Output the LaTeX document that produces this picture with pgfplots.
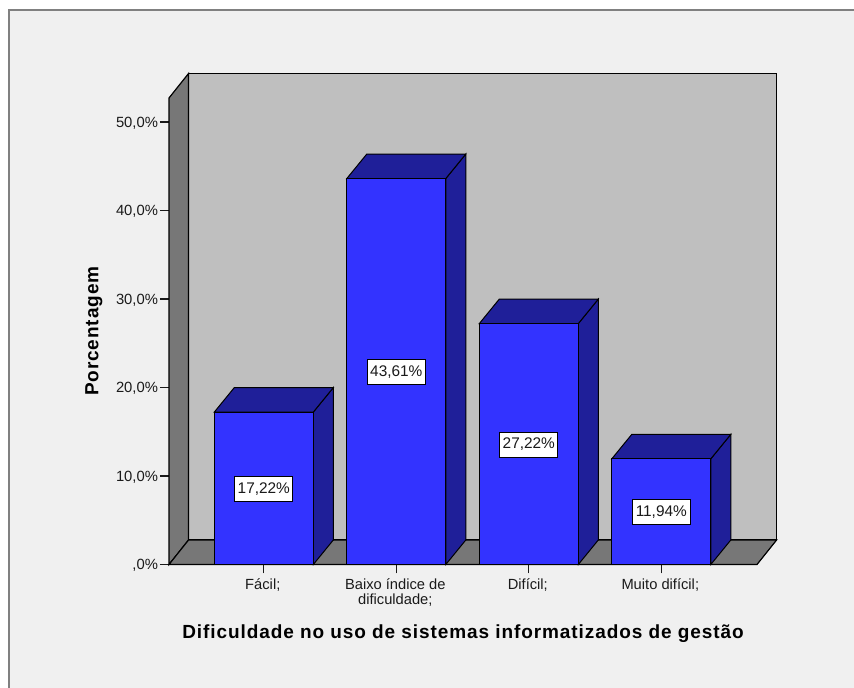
\documentclass[border=0pt]{standalone}
\usepackage{pgfplots}
\usepackage{pgfplotstable}
\usepackage{fontspec}
\pgfplotsset{compat=1.18}
\setmainfont{Liberation Sans}
\newfontfamily\titlefont[LetterSpace=4.8]{Liberation Sans}

\definecolor{panel}{HTML}{F0F0F0}
\definecolor{frameline}{HTML}{808080}
\definecolor{wall}{HTML}{BFBFBF}
\definecolor{wallside}{HTML}{777777}
\definecolor{barfront}{HTML}{3333FF}
\definecolor{barside}{HTML}{1F1F99}
\definecolor{inktext}{HTML}{1A1A1A}

\pgfplotstableread{
x y
0 17.22
1 43.61
2 27.22
3 11.94
}\bars

\begin{document}
\begin{tikzpicture}
\useasboundingbox (0,0) rectangle (854pt,688pt);
\fill[white] (0,0) rectangle (854pt,688pt);
\fill[panel] (9pt,0) rectangle (854pt,678pt);
\draw[frameline,line width=2pt] (9pt,0) -- (9pt,678pt) -- (854pt,678pt);

\begin{axis}[
  at={(169pt,123.5pt)}, anchor=south west,
  scale only axis, width=588pt, height=466.5pt,
  xmin=-0.7155, xmax=3.7223,
  ymin=0, ymax=52.71,
  clip=false,
  axis lines=left,
  axis line style={-, draw=black, line width=1pt},
  tick align=outside,
  major tick length=9pt,
  tick style={draw=inktext, line width=1.2pt},
  xtick={0,1,2,3},
  xticklabels={F\'acil;,{Baixo \'indice de\\dificuldade;},Dif\'icil;,Muito dif\'icil;},
  ytick={0,10,20,30,40,50},
  yticklabels={{,0\%},{10,0\%},{20,0\%},{30,0\%},{40,0\%},{50,0\%}},
  tick label style={text=inktext},
  yticklabel style={font=\fontsize{14.8}{15}\selectfont, xshift=1.5pt, yshift=-1pt},
  xticklabel style={font=\fontsize{14.7}{15}\selectfont, align=center, yshift=-2pt, xshift=-1pt},
  xlabel={\titlefont\bfseries Dificuldade no uso de sistemas informatizados de gest\~ao},
  xlabel style={font=\fontsize{19}{22}\selectfont, at={(axis description cs:0.5,-0.1487)}, anchor=center},
  ylabel={\titlefont\bfseries Porcentagem},
  ylabel style={font=\fontsize{19}{22}\selectfont, at={(axis description cs:-0.128,0.5)}, anchor=center},
]
% walls and floor
\addplot[fill=wall, draw=black, line width=1.5pt] coordinates {(-0.568,2.768) (3.870,2.768) (3.870,55.48) (-0.568,55.48)} -- cycle;
\addplot[fill=wallside, draw=black, line width=1.2pt] coordinates {(-0.7155,0) (-0.568,2.768) (-0.568,55.48) (-0.7155,52.71)} -- cycle;
\addplot[fill=wallside, draw=black, line width=1.2pt] coordinates {(-0.7155,0) (3.7223,0) (3.870,2.768) (-0.568,2.768)} -- cycle;

% bar sides
\addplot[fill=barside, draw=black, line width=1pt] coordinates {(0.3736,0) (0.5246,2.768) (0.5246,19.988) (0.3736,17.22)} -- cycle;
\addplot[fill=barside, draw=black, line width=1pt] coordinates {(1.3736,0) (1.5246,2.768) (1.5246,46.378) (1.3736,43.61)} -- cycle;
\addplot[fill=barside, draw=black, line width=1pt] coordinates {(2.3736,0) (2.5246,2.768) (2.5246,29.988) (2.3736,27.22)} -- cycle;
\addplot[fill=barside, draw=black, line width=1pt] coordinates {(3.3736,0) (3.5246,2.768) (3.5246,14.708) (3.3736,11.94)} -- cycle;
% bar tops
\addplot[fill=barside, draw=black, line width=1pt] coordinates {(-0.3736,17.22) (-0.2226,19.988) (0.5246,19.988) (0.3736,17.22)} -- cycle;
\addplot[fill=barside, draw=black, line width=1pt] coordinates {(0.6264,43.61) (0.7774,46.378) (1.5246,46.378) (1.3736,43.61)} -- cycle;
\addplot[fill=barside, draw=black, line width=1pt] coordinates {(1.6264,27.22) (1.7774,29.988) (2.5246,29.988) (2.3736,27.22)} -- cycle;
\addplot[fill=barside, draw=black, line width=1pt] coordinates {(2.6264,11.94) (2.7774,14.708) (3.5246,14.708) (3.3736,11.94)} -- cycle;
% bar fronts
\addplot[ybar, bar width=99pt, fill=barfront, draw=black, line width=1pt] table[x=x,y=y] {\bars};

% value labels sit at half the bar height
\addplot[draw=none, mark=none, point meta=explicit symbolic,
  nodes near coords={\pgfplotspointmeta\%},
  every node near coord/.append style={anchor=center, fill=white, draw=black, line width=0.8pt,
    inner sep=0pt, minimum width=58pt, minimum height=25pt, text=inktext, yshift=-0.5pt,
    font=\fontsize{15.4}{16}\selectfont}]
  coordinates {(0,8.61)[17,22] (1,21.805)[43,61] (2,13.61)[27,22] (3,5.97)[11,94]};
\end{axis}
\end{tikzpicture}
\end{document}
